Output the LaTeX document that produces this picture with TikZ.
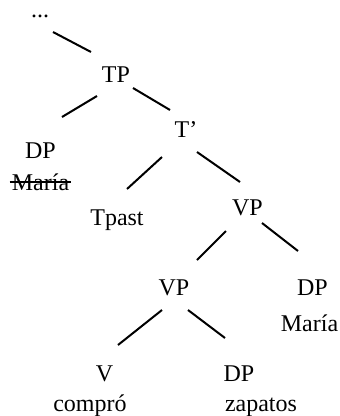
\documentclass[tikz,border=0pt]{standalone}
\usepackage{fontspec}
\setmainfont{Liberation Serif}
\begin{document}
\begin{tikzpicture}[x=1pt,y=-1pt,
  lbl/.style={inner sep=0pt, anchor=base, font=\fontsize{24}{28}\selectfont},
  branch/.style={line width=2pt},
  strike/.style={line width=1.1pt}]
\useasboundingbox[fill=white] (0,0) rectangle (340,416);
% labels
\node[lbl] (dots) at (40,17) {...};
\node[lbl] (tp) at (116,82) {TP};
\node[lbl] (dp1) at (40.5,158) {DP};
\node[lbl] (maria1) at (40.5,190) {María};
\node[lbl] (tbar) at (186,137) {T’};
\node[lbl] (tpast) at (117,225) {Tpast};
\node[lbl] (vp1) at (247.5,215) {VP};
\node[lbl] (vp2) at (174,295) {VP};
\node[lbl] (dp2) at (312.5,295) {DP};
\node[lbl] (maria2) at (309.5,331) {María};
\node[lbl] (v) at (104.5,381) {V};
\node[lbl] (compro) at (90,411) {compró};
\node[lbl] (dp3) at (239,381) {DP};
\node[lbl] (zapatos) at (261,411) {zapatos};
% strike-through
\draw[strike] ([xshift=-2pt,yshift=8pt]maria1.base west) -- ([xshift=2pt,yshift=8pt]maria1.base east);
% branch end points
\coordinate (a1) at (53,32);   \coordinate (a2) at (91,52);
\coordinate (b1) at (97,96);   \coordinate (b2) at (62,117);
\coordinate (c1) at (133,88);  \coordinate (c2) at (170,110);
\coordinate (d1) at (162,157); \coordinate (d2) at (127,189);
\coordinate (e1) at (197,152); \coordinate (e2) at (240,182);
\coordinate (f1) at (226,231); \coordinate (f2) at (197,260);
\coordinate (g1) at (262,223); \coordinate (g2) at (298,251);
\coordinate (h1) at (162,310); \coordinate (h2) at (118,345);
\coordinate (k1) at (188,310); \coordinate (k2) at (225,338);
% branches
\draw[branch] (a1) -- (a2);
\draw[branch] (b1) -- (b2);
\draw[branch] (c1) -- (c2);
\draw[branch] (d1) -- (d2);
\draw[branch] (e1) -- (e2);
\draw[branch] (f1) -- (f2);
\draw[branch] (g1) -- (g2);
\draw[branch] (h1) -- (h2);
\draw[branch] (k1) -- (k2);
\end{tikzpicture}
\end{document}
